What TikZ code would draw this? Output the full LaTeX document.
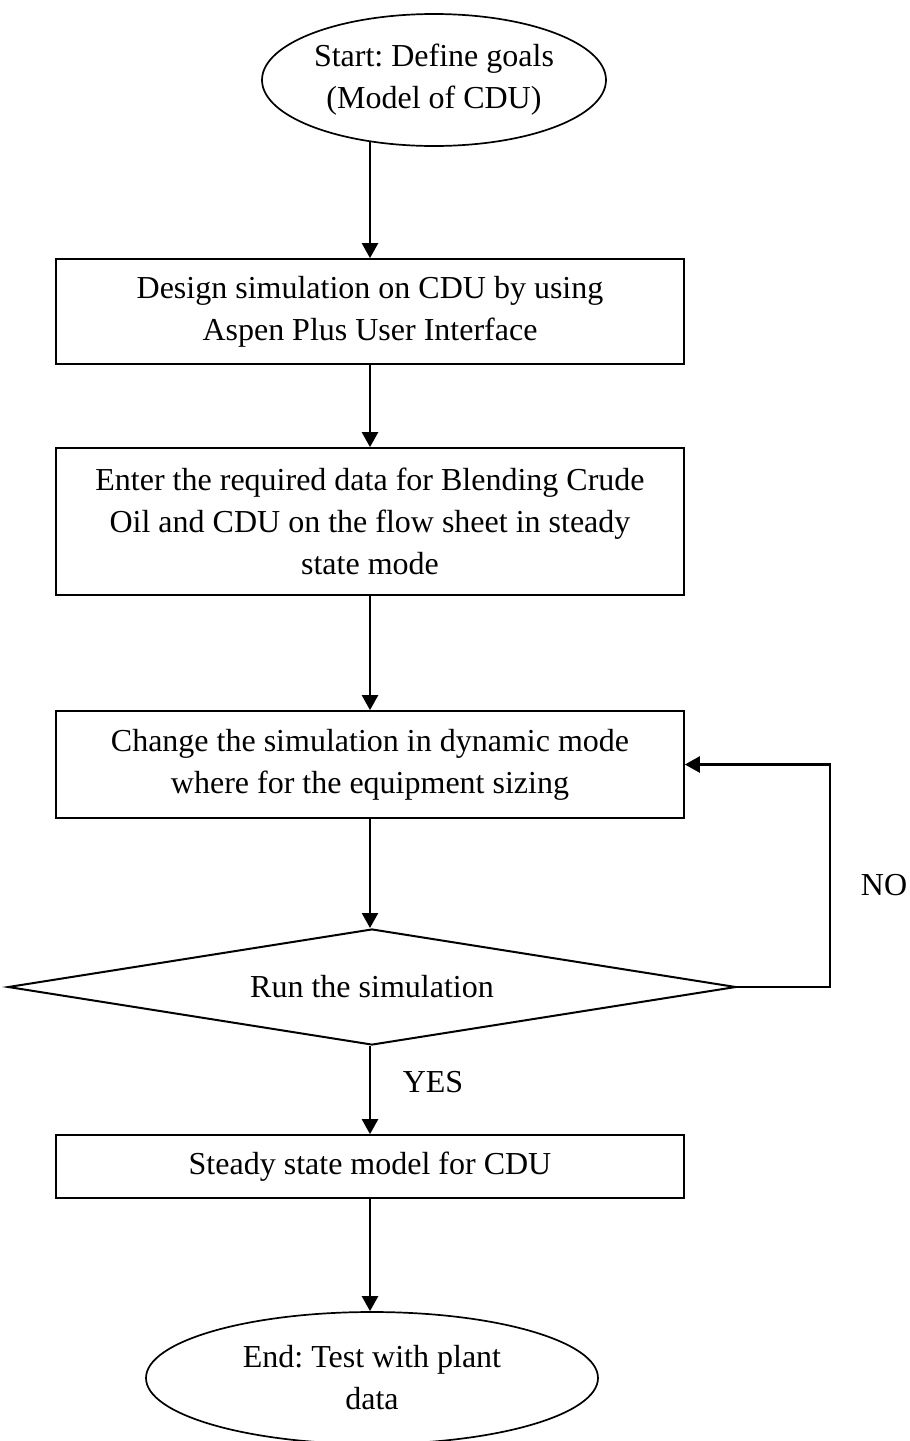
\documentclass[tikz,border=0pt]{standalone}
\usepackage{fontspec}
\setmainfont{Liberation Serif}
\usetikzlibrary{shapes.geometric,arrows.meta}
\frenchspacing
\begin{document}
\begin{tikzpicture}[x=0.5pt,y=-0.5pt,
  every node/.style={font=\fontsize{16}{21}\selectfont, align=center, inner sep=0pt},
  box/.style={draw, line width=0.85pt, rectangle, minimum width=314pt},
  term/.style={draw, line width=0.85pt, ellipse, minimum height=66pt},
  dec/.style={draw, line width=1pt, diamond, shape aspect=6.3, minimum width=364pt, minimum height=58pt},
  arr/.style={line width=1.2pt, -{Triangle[width=8pt,length=7.5pt]}},
  lbl/.style={font=\fontsize{16}{21}\selectfont}]
\useasboundingbox (0,0) rectangle (910,1441);
\node[term, minimum width=172pt] (start) at (434,80) {Start: Define goals\\(Model of CDU)};
\node[box, minimum height=52.5pt] (b1) at (370,311.5) {Design simulation on CDU by using\\Aspen Plus User Interface};
\node[box, minimum height=73.5pt] (b2) at (370,521.5) {Enter the required data for Blending Crude\\Oil and CDU on the flow sheet in steady\\state mode};
\node[box, minimum height=53.5pt] (b3) at (370,764.5) {Change the simulation in dynamic mode\\where for the equipment sizing};
\node[dec] (run) at (372,987) {Run the simulation};
\node[box, minimum height=31.5pt] (b4) at (370,1166.5) {Steady state model for CDU};
\node[term, minimum width=226pt] (stop) at (372,1378) {End: Test with plant\\data};
\node[lbl] (no) at (884,885) {NO};
\node[lbl] (yes) at (433,1082) {YES};
\coordinate (s0) at (370,141.3);
\draw[arr] (s0) -- (b1.north);
\draw[arr] (b1.south) -- (b2.north);
\draw[arr] (b2.south) -- (b3.north);
\draw[arr] (b3.south) -- (b3.south |- run.north);
\draw[arr] (b3.south |- run.south) -- (b4.north);
\draw[arr] (b4.south) -- (b4.south |- stop.north);
\draw[arr] (run.east) -- ++(93,0) |- (b3.east);
\end{tikzpicture}
\end{document}
